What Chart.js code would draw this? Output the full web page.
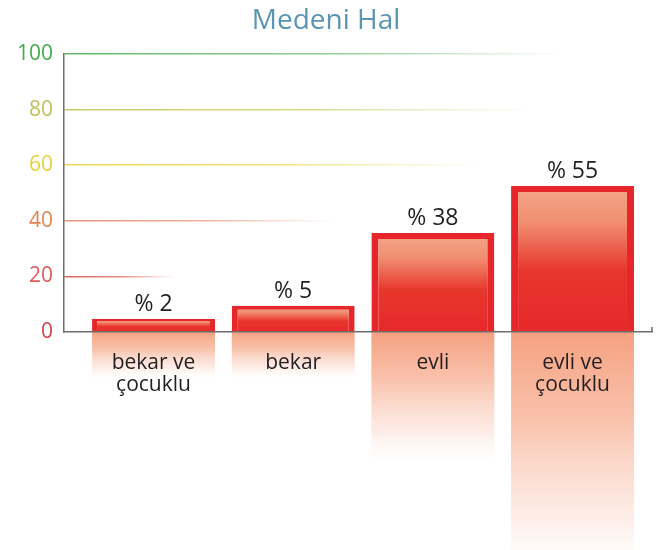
<!DOCTYPE html>
<html><head><meta charset="utf-8">
<script src="https://cdn.jsdelivr.net/npm/chart.js@4/dist/chart.umd.min.js"></script>
<style>html,body{margin:0;padding:0;background:#fff}#wrap{width:663px;height:550px}</style>
</head><body><div id="wrap"><canvas id="c" width="663" height="550"></canvas></div>
<script>
const chartTitle = 'Medeni Hal';
const categories = [['bekar ve', 'çocuklu'], 'bekar', 'evli', ['evli ve', 'çocuklu']];
const barHeights = [4.7, 9.4, 35.6, 52.5];   // bar heights as drawn on the 0-100 axis
const percentLabels = ['% 2', '% 5', '% 38', '% 55'];
const yTickValues = [0, 20, 40, 60, 80, 100];

const FONT = "'Open Sans', 'Noto Sans', sans-serif";
const tickColor = {0: '#d9414d', 20: '#dd5a58', 40: '#e6844f', 60: '#e6d140', 80: '#bfc25a', 100: '#45aa4e'};
const gridRGB = {20: [222, 100, 90], 40: [232, 150, 120], 60: [236, 216, 80], 80: [200, 205, 100], 100: [100, 185, 105]};
const gridLen = {20: 110, 40: 270, 60: 420, 80: 470, 100: 500};

const reflection = {
  id: 'reflection',
  beforeDraw(chart) {
    const meta = chart.getDatasetMeta(0);
    const c = chart.ctx;
    const base = chart.scales.y.getPixelForValue(0);
    c.save();
    meta.data.forEach(el => {
      const h = base - el.y;
      const len = Math.max(48, 0.01 * h * h + 37);
      const left = el.x - el.width / 2;
      const g = c.createLinearGradient(0, base, 0, base + len);
      g.addColorStop(0, 'rgba(245,160,128,1)');
      g.addColorStop(0.35, 'rgba(247,178,150,0.8)');
      g.addColorStop(0.75, 'rgba(250,210,195,0.4)');
      g.addColorStop(1, 'rgba(255,255,255,0)');
      c.fillStyle = g;
      c.fillRect(left, base, el.width, len);
    });
    c.restore();
  }
};

const axisEndTick = {
  id: 'axisEndTick',
  afterDraw(chart) {
    const a = chart.chartArea;
    const c = chart.ctx;
    c.save();
    c.strokeStyle = '#6d6d6d';
    c.lineWidth = 1.5;
    c.beginPath();
    c.moveTo(a.right, a.bottom - 5);
    c.lineTo(a.right, a.bottom);
    c.stroke();
    c.restore();
  }
};

const valueLabels = {
  id: 'valueLabels',
  afterDatasetsDraw(chart) {
    const meta = chart.getDatasetMeta(0);
    const c = chart.ctx;
    c.save();
    c.font = '23px ' + FONT;
    c.fillStyle = '#231f20';
    c.textAlign = 'center';
    c.textBaseline = 'alphabetic';
    meta.data.forEach((el, i) => {
      c.fillText(percentLabels[i], el.x, el.y - 8);
    });
    c.restore();
  }
};

new Chart(document.getElementById('c'), {
  type: 'bar',
  data: {
    datasets: [{
      data: barHeights.map((v, i) => ({x: i, y: v})),
      borderColor: '#e6262a',
      borderWidth: (ctx) => {
        const v = ctx.parsed ? ctx.parsed.y : 50;
        return v < 7 ? {top: 2, left: 5, right: 5, bottom: 0} : v < 20 ? {top: 4, left: 6, right: 6, bottom: 0} : {top: 6, left: 7, right: 7, bottom: 0};
      },
      borderSkipped: 'start',
      backgroundColor: (ctx) => {
        const chart = ctx.chart;
        if (!chart.chartArea || !ctx.parsed) return '#e8302a';
        const ys = chart.scales.y;
        const top = ys.getPixelForValue(ctx.parsed.y);
        const base = ys.getPixelForValue(0);
        const g = chart.ctx.createLinearGradient(0, top, 0, base);
        g.addColorStop(0, '#f5a88a');
        g.addColorStop(0.25, '#f18e70');
        g.addColorStop(0.58, '#e8362c');
        g.addColorStop(1, '#e6292a');
        return g;
      },
      barPercentage: 0.88,
      categoryPercentage: 1
    }]
  },
  options: {
    responsive: false,
    animation: false,
    layout: {padding: {left: 0, right: 11, top: 0, bottom: 0}},
    plugins: {
      legend: {display: false},
      tooltip: {enabled: false},
      title: {
        display: true,
        text: chartTitle,
        color: '#5b95b4',
        font: {family: FONT, size: 28, weight: 'normal', lineHeight: 1.2},
        padding: {top: 4, bottom: 16.4}
      }
    },
    scales: {
      x: {
        type: 'linear',
        offset: false,
        min: -0.641,
        max: 3.569,
        afterBuildTicks: (scale) => { scale.ticks = categories.map((_, i) => ({value: i})); },
        afterFit: (scale) => { scale.height = 218; },
        grid: {display: false, drawTicks: false, offset: false},
        border: {display: true, color: '#6d6d6d', width: 1.5},
        ticks: {
          callback: (v) => categories[v],
          color: '#231f20',
          font: {family: FONT, size: 21, lineHeight: 1.05},
          padding: 20,
          maxRotation: 0,
          autoSkip: false
        }
      },
      y: {
        min: 0,
        max: 100,
        afterBuildTicks: (scale) => { scale.ticks = yTickValues.map(v => ({value: v})); },
        afterFit: (scale) => { scale.width = 64; },
        border: {display: true, color: '#6d6d6d', width: 1.5},
        grid: {
          drawTicks: false,
          lineWidth: 1.5,
          color: (ctx) => {
            const v = ctx.tick && ctx.tick.value;
            const area = ctx.chart.chartArea;
            if (!area || !gridRGB[v]) return 'rgba(0,0,0,0)';
            const [r, g, b] = gridRGB[v];
            const gr = ctx.chart.ctx.createLinearGradient(area.left, 0, area.left + gridLen[v], 0);
            gr.addColorStop(0, `rgba(${r},${g},${b},1)`);
            gr.addColorStop(0.5, `rgba(${r},${g},${b},0.75)`);
            gr.addColorStop(1, `rgba(${r},${g},${b},0)`);
            return gr;
          }
        },
        ticks: {
          color: (ctx) => tickColor[ctx.tick.value] || '#666',
          font: {family: FONT, size: 21},
          padding: 11
        }
      }
    }
  },
  plugins: [reflection, valueLabels, axisEndTick]
});
</script>
</body></html>
